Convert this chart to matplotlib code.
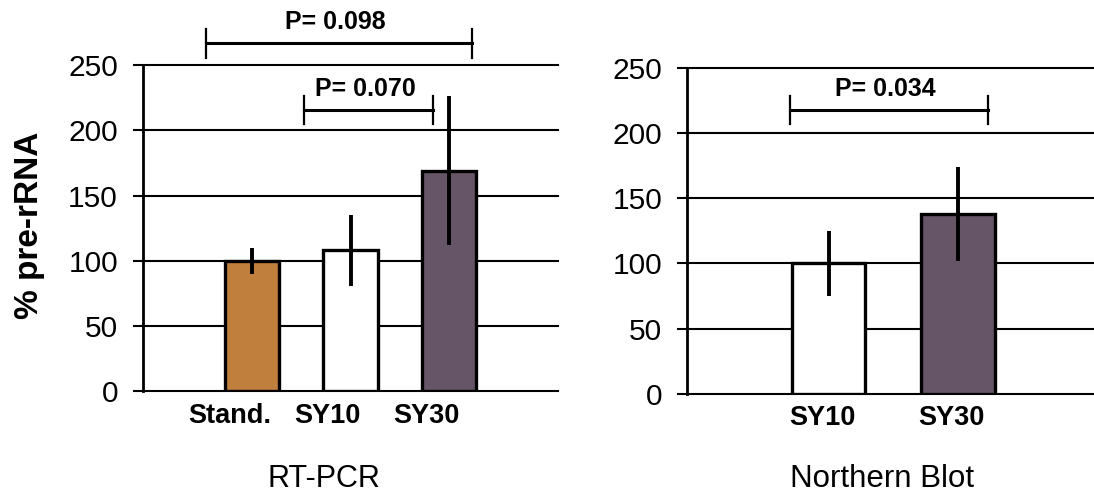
import matplotlib
matplotlib.use("Agg")
import matplotlib.pyplot as plt

plt.rcParams['font.family'] = ['Liberation Sans', 'DejaVu Sans']

# RT-PCR panel
rt_labels = ["Stand.", "SY10", "SY30"]
rt_values = [100, 108, 169]
rt_err = [10, 27, 57]
rt_colors = ["#C17F3E", "#FFFFFF", "#665566"]

# Northern blot panel
nb_labels = ["SY10", "SY30"]
nb_values = [100, 138]
nb_err = [25, 36]
nb_colors = ["#FFFFFF", "#665566"]

yticks = [0, 50, 100, 150, 200, 250]

# significance brackets: (x start, x end, y, text)
rt_pvals = [(-0.47, 2.23, 266.6, "P= 0.098"), (0.53, 1.84, 215.5, "P= 0.070")]
nb_pvals = [(-0.30, 1.23, 217.5, "P= 0.034")]


def draw_panel(ax, labels, values, err, colors, pvals, xlim, width, shift):
    pos = list(range(len(values)))
    ax.set_xlim(*xlim)
    ax.set_ylim(0, 250)
    for y in yticks:
        ax.axhline(y, color="black", lw=1.5, zorder=0, clip_on=False)
    ax.bar(pos, values, width=width, color=colors, edgecolor="black",
           linewidth=2.4, zorder=2)
    ax.errorbar(pos, values, yerr=err, fmt="none", ecolor="black",
                elinewidth=2.8, capsize=0, zorder=3)
    for s in ["top", "right", "bottom"]:
        ax.spines[s].set_visible(False)
    ax.spines["left"].set_linewidth(2)
    ax.set_yticks(yticks)
    ax.tick_params(axis="y", length=7, width=1.5, pad=11, labelsize=21.5)
    ax.set_xticks([p + shift for p in pos])
    ax.set_xticklabels(labels, fontsize=19.5, fontweight="bold")
    ax.tick_params(axis="x", length=0, pad=8)
    for x1, x2, y, txt in pvals:
        ax.plot([x1, x2], [y, y], color="black", lw=2.2, clip_on=False)
        for xe in (x1, x2):
            ax.plot([xe, xe], [y - 11, y + 11], color="black", lw=1.6,
                    clip_on=False)
        ax.text((x1 + x2) / 2 - 0.03, y + 16, txt, ha="center", va="center",
                fontsize=18, fontweight="bold", clip_on=False)


fig = plt.figure(figsize=(10.94, 4.95), dpi=100)
ax1 = fig.add_axes([0.1307, 0.2091, 0.3794, 0.6596])
ax2 = fig.add_axes([0.628, 0.204, 0.372, 0.6596])

draw_panel(ax1, rt_labels, rt_values, rt_err, rt_colors, rt_pvals,
           (-1.107, 3.107), 0.55, -0.23)
draw_panel(ax2, nb_labels, nb_values, nb_err, nb_colors, nb_pvals,
           (-1.10, 2.054), 0.566, -0.05)

fig.text(0.027, 0.545, "% pre-rRNA", rotation=90, ha="center", va="center",
         fontsize=24, fontweight="bold")
fig.text(0.296, 0.032, "RT-PCR", ha="center", va="center", fontsize=22)
fig.text(0.806, 0.032, "Northern Blot", ha="center", va="center", fontsize=22.5)

fig.savefig("out.png", dpi=100)
